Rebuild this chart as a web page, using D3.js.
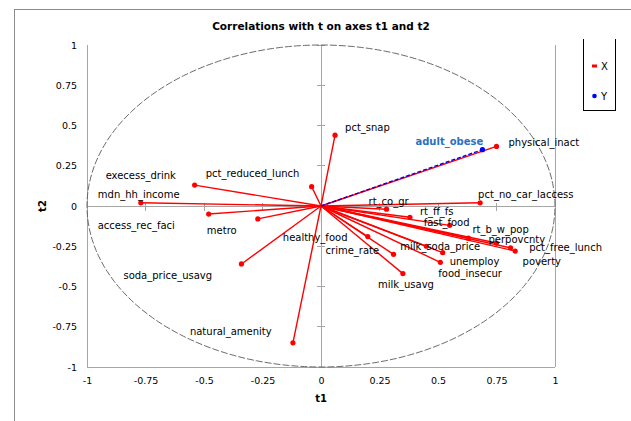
<!DOCTYPE html>
<html><head><meta charset="utf-8">
<script src="https://cdn.jsdelivr.net/npm/d3@7"></script>
<style>
html,body{margin:0;padding:0;background:#fff;}
svg{display:block;font-family:"DejaVu Sans",sans-serif;}
</style></head>
<body><svg id="c" width="631" height="421"></svg>
<script>
// ---- data ----
const xNames = ["pct_snap","physical_inact","execess_drink","pct_reduced_lunch","mdn_hh_income","access_rec_faci","metro","pct_no_car_laccess","rt_co_gr","rt_ff_fs","fast_food","healthy_food","rt_b_w_pop","perpovcnty","pct_free_lunch","poverty","crime_rate","milk_soda_price","unemploy","food_insecur","milk_usavg","soda_price_usavg","natural_amenity"];
const xT1 = [0.06,0.75,-0.54,-0.04,-0.77,-0.48,-0.27,0.68,0.28,0.38,0.55,0.20,0.63,0.75,0.83,0.81,0.31,0.45,0.52,0.51,0.35,-0.34,-0.12];
const xT2 = [0.44,0.37,0.13,0.12,0.02,-0.05,-0.08,0.02,-0.02,-0.07,-0.12,-0.19,-0.20,-0.23,-0.28,-0.26,-0.30,-0.25,-0.29,-0.35,-0.42,-0.36,-0.85];
const yNames = ["adult_obese"];
const yT1 = [0.69];
const yT2 = [0.35];
const tickValues = [-1,-0.75,-0.5,-0.25,0,0.25,0.5,0.75,1];
const tickLabels = ["-1","-0.75","-0.5","-0.25","0","0.25","0.5","0.75","1"];
const seriesNames = ["X","Y"];
const title = "Correlations with t on axes t1 and t2";

// ---- layout (label offsets in px relative to point) ----
const xLabelOff = [[10,-4],[12,0],[-89,-6],[-106,-10],[-43,-5],[-111,15],[-51,15],[-2,-5],[-18,-4],[10,-2],[-26,1],[-85,4],[4,-5],[-8,0],[14,0],[12,17],[-68,0],[-26,4],[7,12],[-2,15],[-25,14],[-118,15],[-103,-8]];
const yLabelOff = [[-67,-5]];

const svg = d3.select("#c");
const x = d3.scaleLinear().domain([-1,1]).range([87,555]);
const y = d3.scaleLinear().domain([-1,1]).range([367,45]);
const gray = "#a6a6a6";

// outer border
svg.append("rect").attr("x",14.5).attr("y",9.5).attr("width",700).attr("height",500)
  .attr("fill","none").attr("stroke","#8c8c8c").attr("stroke-width",1);

// title
svg.append("text").attr("x",321).attr("y",30).attr("text-anchor","middle")
  .attr("font-size","10.5px").attr("font-weight","bold").attr("fill","#000").text(title);

// plot frame lines (left, right, bottom)
const fr = svg.append("g").attr("stroke",gray).attr("stroke-width",1).attr("shape-rendering","crispEdges");
fr.append("line").attr("x1",x(-1)).attr("x2",x(-1)).attr("y1",y(1)).attr("y2",y(-1));
fr.append("line").attr("x1",x(1)).attr("x2",x(1)).attr("y1",y(1)).attr("y2",y(-1));
fr.append("line").attr("x1",x(-1)).attr("x2",x(1)).attr("y1",y(-1)).attr("y2",y(-1));
// central axes
fr.append("line").attr("x1",x(0)).attr("x2",x(0)).attr("y1",y(1)).attr("y2",y(-1));
fr.append("line").attr("x1",x(-1)).attr("x2",x(1)).attr("y1",y(0)).attr("y2",y(0));
tickValues.forEach(v=>{
  fr.append("line").attr("x1",x(0)-4).attr("x2",x(0)+4).attr("y1",y(v)).attr("y2",y(v));
  fr.append("line").attr("x1",x(v)).attr("x2",x(v)).attr("y1",y(0)-3).attr("y2",y(0)+5);
});

// tick labels via d3 axes
const fmt = (d)=>tickLabels[tickValues.indexOf(d)];
const ax = svg.append("g").attr("transform",`translate(0,${y(-1)})`)
  .call(d3.axisBottom(x).tickValues(tickValues).tickFormat(fmt).tickSize(0).tickPadding(10));
const ay = svg.append("g").attr("transform",`translate(${x(-1)},0)`)
  .call(d3.axisLeft(y).tickValues(tickValues).tickFormat(fmt).tickSize(0).tickPadding(10));
[ax,ay].forEach(g=>{g.select(".domain").remove();
  g.selectAll("text").attr("font-family","DejaVu Sans, sans-serif").attr("font-size","9.5px").attr("fill","#000");});

// axis titles
svg.append("text").attr("x",x(0)).attr("y",402).attr("text-anchor","middle")
  .attr("font-size","10px").attr("font-weight","bold").text("t1");
svg.append("text").attr("transform",`translate(46,${y(0)}) rotate(-90)`).attr("text-anchor","middle")
  .attr("font-size","10px").attr("font-weight","bold").text("t2");

// unit circle
const circ = d3.range(0,361,2).map(a=>[Math.cos(a*Math.PI/180),Math.sin(a*Math.PI/180)]);
svg.append("path").attr("d",d3.line().x(d=>x(d[0])).y(d=>y(d[1]))(circ))
  .attr("fill","none").attr("stroke","#5a5a5a").attr("stroke-width",0.9).attr("stroke-dasharray","7,2");

// X series
const xData = xNames.map((n,i)=>({n,a:xT1[i],b:xT2[i],o:xLabelOff[i]}));
const yData = yNames.map((n,i)=>({n,a:yT1[i],b:yT2[i],o:yLabelOff[i]}));
const gx = svg.append("g");
gx.selectAll("line").data(xData).join("line")
  .attr("x1",x(0)).attr("y1",y(0)).attr("x2",d=>x(d.a)).attr("y2",d=>y(d.b))
  .attr("stroke","#ff0000").attr("stroke-width",1.4);
gx.selectAll("circle").data(xData).join("circle")
  .attr("cx",d=>x(d.a)).attr("cy",d=>y(d.b)).attr("r",2.6).attr("fill","#ff0000");
const gy = svg.append("g");
gy.selectAll("line").data(yData).join("line")
  .attr("x1",x(0)).attr("y1",y(0)).attr("x2",d=>x(d.a)).attr("y2",d=>y(d.b))
  .attr("stroke","#0000ff").attr("stroke-width",1.4).attr("stroke-dasharray","4,2");
gy.selectAll("circle").data(yData).join("circle")
  .attr("cx",d=>x(d.a)).attr("cy",d=>y(d.b)).attr("r",2.6).attr("fill","#0000ff");

// labels
svg.append("g").selectAll("text").data(xData).join("text")
  .attr("x",d=>x(d.a)+d.o[0]).attr("y",d=>y(d.b)+d.o[1])
  .attr("font-size","10px").attr("fill","#000").text(d=>d.n);
svg.append("g").selectAll("text").data(yData).join("text")
  .attr("x",d=>x(d.a)+d.o[0]).attr("y",d=>y(d.b)+d.o[1])
  .attr("font-size","10px").attr("font-weight","bold").attr("fill","#2a72c0").text(d=>d.n);

// legend
const lg = svg.append("g").attr("stroke","#000").attr("stroke-width",1).attr("shape-rendering","crispEdges");
lg.append("line").attr("x1",583.5).attr("x2",583.5).attr("y1",39).attr("y2",111);
lg.append("line").attr("x1",615.5).attr("x2",615.5).attr("y1",39).attr("y2",111);
lg.append("line").attr("x1",583.5).attr("x2",615.5).attr("y1",110.5).attr("y2",110.5);
const legColors = ["#ff0000","#0000ff"];
seriesNames.forEach((s,i)=>{
  const cy = 66 + i*30;
  if(i===0) svg.append("rect").attr("x",592).attr("y",cy-1.5).attr("width",5).attr("height",3).attr("fill",legColors[i]);
  else svg.append("circle").attr("cx",594.5).attr("cy",cy).attr("r",2.3).attr("fill",legColors[i]);
  svg.append("text").attr("x",601).attr("y",cy+4).attr("font-size","10px").text(s);
});
</script></body></html>
